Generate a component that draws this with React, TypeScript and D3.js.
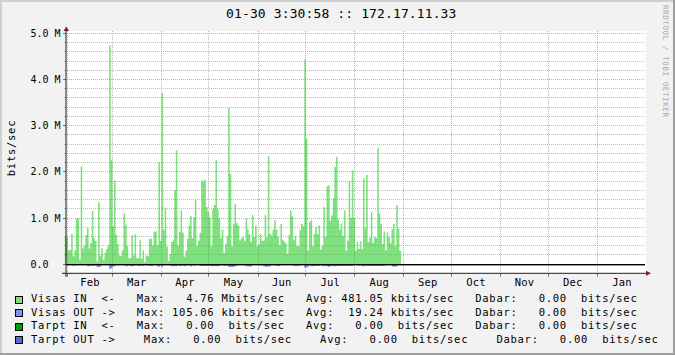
import React from 'react';
import * as d3 from 'd3';

const titleText = '01-30 3:30:58 :: 172.17.11.33';
const unitLabel = 'bits/sec';
const watermark = 'RRDTOOL / TOBI OETIKER';
const startDate = new Date(Date.UTC(2010, 0, 30, 3, 30, 58));
const endDate = new Date(Date.UTC(2011, 0, 30, 3, 30, 58));

// daily averages, Mbit/s
const visasIn = [
  0.60, 0.58, 0.30, 0.30, 0.66, 0.17, 0.30, 0.99, 0.99, 0.10,
  2.12, 0.34, 0.41, 0.63, 0.78, 0.34, 0.46, 1.15, 0.57, 0.50,
  0.06, 1.34, 0.19, 0.34, 0.09, 0.25, 0.33, 0.41, 4.74, 2.25,
  0.82, 1.81, 0.63, 0.43, 0.19, 0.17, 0.30, 1.10, 0.86, 0.39,
  0.13, 0.13, 0.62, 0.19, 0.65, 0.13, 0.13, 0.52, 0.12, 0.30,
  0.04, 0.19, 0.17, 0.55, 0.55, 0.41, 0.71, 0.71, 0.41, 2.21,
  0.51, 3.71, 0.74, 1.23, 0.38, 0.07, 0.22, 0.48, 0.52, 1.60,
  2.47, 0.41, 0.70, 1.17, 0.68, 0.16, 0.29, 0.55, 0.84, 1.04,
  0.56, 1.02, 1.39, 0.40, 0.51, 0.68, 1.82, 1.78, 1.83, 1.24,
  1.13, 1.01, 0.39, 1.20, 1.28, 2.25, 1.20, 0.99, 0.56, 0.75,
  0.25, 0.43, 0.61, 3.38, 1.96, 0.39, 0.87, 1.30, 0.89, 0.84,
  0.52, 0.56, 0.59, 0.51, 0.99, 0.75, 0.65, 0.48, 1.06, 0.59,
  0.84, 0.39, 0.43, 0.65, 0.51, 0.51, 1.06, 0.58, 2.34, 0.66,
  0.62, 0.74, 0.95, 0.75, 0.59, 0.41, 0.87, 0.53, 0.49, 0.45,
  0.22, 0.63, 1.17, 1.04, 0.52, 0.61, 0.40, 0.39, 0.74, 0.87,
  0.82, 4.43, 2.72, 0.30, 0.91, 0.95, 0.39, 0.66, 0.81, 0.65,
  0.84, 0.32, 0.41, 1.24, 0.59, 1.69, 1.71, 0.94, 1.06, 1.43,
  2.11, 2.32, 0.97, 0.75, 0.88, 0.61, 1.17, 0.29, 0.51, 1.80,
  1.00, 2.03, 1.00, 0.29, 0.48, 0.33, 0.50, 0.33, 1.86, 0.78,
  1.93, 0.48, 0.58, 1.13, 0.46, 0.59, 0.56, 2.51, 1.11, 0.87,
  0.44, 0.71, 0.30, 0.69, 0.59, 0.45, 0.76, 0.87, 0.39, 1.28,
  0.77, 0.29,
];

const visasOut = [
  0.02, 0.02, 0.02, 0.02, 0.02, 0.04, 0.02, 0.02, 0.02, 0.02,
  0.02, 0.02, 0.02, 0.02, 0.045, 0.045, 0.02, 0.04, 0.04, 0.02,
  0.06, 0.06, 0.055, 0.02, 0.02, 0.02, 0.02, 0.02, 0.105, 0.09,
  0.05, 0.045, 0.02, 0.02, 0.02, 0.02, 0.02, 0.02, 0.045, 0.04,
  0.02, 0.04, 0.045, 0.04, 0.02, 0.02, 0.04, 0.04, 0.02, 0.04,
  0.02, 0.02, 0.035, 0.035, 0.035, 0.035, 0.02, 0.02, 0.05, 0.05,
  0.02, 0.06, 0.02, 0.02, 0.02, 0.02, 0.02, 0.045, 0.045, 0.04,
  0.045, 0.02, 0.04, 0.04, 0.02, 0.04, 0.04, 0.02, 0.02, 0.05,
  0.02, 0.04, 0.02, 0.02, 0.02, 0.04, 0.04, 0.035, 0.04, 0.035,
  0.04, 0.035, 0.045, 0.045, 0.04, 0.045, 0.04, 0.04, 0.02, 0.02,
  0.04, 0.04, 0.02, 0.06, 0.06, 0.06, 0.06, 0.04, 0.04, 0.02,
  0.02, 0.02, 0.02, 0.02, 0.045, 0.045, 0.05, 0.05, 0.02, 0.02,
  0.02, 0.02, 0.02, 0.02, 0.02, 0.045, 0.05, 0.06, 0.045, 0.05,
  0.02, 0.02, 0.02, 0.04, 0.04, 0.04, 0.02, 0.02, 0.02, 0.02,
  0.02, 0.02, 0.02, 0.02, 0.04, 0.04, 0.035, 0.04, 0.02, 0.02,
  0.02, 0.075, 0.07, 0.05, 0.02, 0.045, 0.045, 0.04, 0.035, 0.04,
  0.035, 0.02, 0.045, 0.045, 0.04, 0.045, 0.06, 0.045, 0.04, 0.045,
  0.045, 0.04, 0.045, 0.04, 0.035, 0.04, 0.04, 0.035, 0.04, 0.035,
  0.04, 0.035, 0.02, 0.02, 0.02, 0.04, 0.02, 0.045, 0.045, 0.04,
  0.035, 0.04, 0.035, 0.04, 0.035, 0.035, 0.04, 0.035, 0.04, 0.035,
  0.04, 0.035, 0.035, 0.02, 0.02, 0.02, 0.045, 0.06, 0.05, 0.045,
  0.02, 0.02,
];

const yMajorTicks = [0, 1, 2, 3, 4, 5];
const yTickLabels = ['0.0  ', '1.0 M', '2.0 M', '3.0 M', '4.0 M', '5.0 M'];
const yMinorStep = 0.2;
const monthLabels = ['Feb', 'Mar', 'Apr', 'May', 'Jun', 'Jul', 'Aug', 'Sep', 'Oct', 'Nov', 'Dec', 'Jan'];

const legendLabels = ['Visas IN  <-', 'Visas OUT ->', 'Tarpt IN  <-', 'Tarpt OUT ->'];
const legendColors = ['#80E080', '#8090FF', '#00A000', '#5070C8'];
const maxValues = [4.76, 105.06, 0, 0];
const maxUnits = ['M', 'k', ' ', ' '];
const avgValues = [481.05, 19.24, 0, 0];
const avgUnits = ['k', 'k', ' ', ' '];
const curValues = [0, 0, 0, 0];
const curUnits = [' ', ' ', ' ', ' '];
const legendGaps = [3, 3, 3, 4];

const W = 675;
const H = 355;
const MONO = "'DejaVu Sans Mono', monospace";

function fmt(v: number) {
  return v.toFixed(2).padStart(7, ' ');
}

export default function App() {
  const x = d3.scaleTime().domain([startDate, endDate]).range([64.8, 643.6]);
  const y = d3.scaleLinear().domain([0, 5]).range([264.2, 33.3]);

  const canvasL = 66, canvasR = 646, canvasT = 31, canvasB = 273;
  const dayMs = 864e5;
  const dates = d3.range(visasIn.length + 1).map((i) => new Date(startDate.getTime() + i * dayMs));

  const inData = [...visasIn, visasIn[visasIn.length - 1]];
  const outData = [...visasOut, visasOut[visasOut.length - 1]];

  const areaIn = d3.area<number>()
    .x((_, i) => x(dates[i]))
    .y0(y(0))
    .y1((d) => y(d))
    .curve(d3.curveStepAfter);
  const areaOut = d3.area<number>()
    .x((_, i) => x(dates[i]))
    .y0(y(0))
    .y1((d) => y(-d))
    .curve(d3.curveStepAfter);

  const months = d3.utcMonth.range(startDate, endDate);
  const minorTicks = d3.range(yMinorStep, 5, yMinorStep).filter((v) => Math.abs(v - Math.round(v)) > 1e-6);

  const snap = (v: number) => Math.floor(v) + 0.5;

  const legendRows = legendLabels.map((lab, i) => {
    const gap = ' '.repeat(legendGaps[i]);
    return (
      lab + gap +
      'Max:' + fmt(maxValues[i]) + ' ' + maxUnits[i] + 'bits/sec' + gap +
      'Avg:' + fmt(avgValues[i]) + ' ' + avgUnits[i] + 'bits/sec' + gap +
      'Dabar:' + fmt(curValues[i]) + ' ' + curUnits[i] + 'bits/sec'
    );
  });

  const axisColor = '#1f1f1f';
  const arrowColor = '#801F1F';

  return (
    <svg
      width={W}
      height={H}
      viewBox={`0 0 ${W} ${H}`}
      style={{ position: 'absolute', left: 0, top: 0, display: 'block' }}
      fontFamily={MONO}
    >
      <rect x={0} y={0} width={W} height={H} fill="#F2F2F2" />
      <rect x={0} y={0} width={W} height={2} fill="#CFCFCF" />
      <rect x={0} y={0} width={2} height={H} fill="#CFCFCF" />
      <rect x={0} y={H - 2} width={W} height={2} fill="#9E9E9E" />
      <rect x={W - 2} y={0} width={2} height={H} fill="#9E9E9E" />

      <text x={341.3} y={18.3} textAnchor="middle" fontSize={13} letterSpacing={0.12} fill="#000" style={{ whiteSpace: 'pre' }}>
        {titleText}
      </text>

      <text
        transform={`translate(663,5) rotate(90)`}
        fontSize={7.5}
        letterSpacing={0.6}
        fill="#A8A8A8"
        style={{ whiteSpace: 'pre' }}
      >
        {watermark}
      </text>

      <text
        transform={`translate(15,148) rotate(-90)`}
        textAnchor="middle"
        fontSize={10.5}
        letterSpacing={0.73}
        fill="#000"
      >
        {unitLabel}
      </text>

      <rect x={canvasL} y={canvasT} width={canvasR - canvasL} height={canvasB - canvasT} fill="#FFFFFF" />

      <path d={areaIn(inData) || ''} fill="#80E080" />
      <path d={areaOut(outData) || ''} fill="#7B8CF8" />

      {/* minor grid */}
      {minorTicks.map((v) => (
        <line key={'mg' + v} x1={canvasL + 1} x2={canvasR - 1} y1={snap(y(v))} y2={snap(y(v))}
          stroke="rgba(143,143,143,0.6)" strokeWidth={1} strokeDasharray="1,1" />
      ))}
      {/* major horizontal grid */}
      {yMajorTicks.map((v) => (
        <line key={'Mg' + v} x1={canvasL + 1} x2={canvasR - 1} y1={snap(y(v))} y2={snap(y(v))}
          stroke="rgba(222,79,79,0.55)" strokeWidth={1} strokeDasharray="1,1" />
      ))}
      {/* vertical month grid */}
      {months.map((m) => (
        <line key={'vg' + m.getTime()} x1={snap(x(m))} x2={snap(x(m))} y1={canvasT} y2={canvasB}
          stroke="rgba(222,79,79,0.55)" strokeWidth={1} strokeDasharray="1,1" />
      ))}

      {/* zero rule */}
      <rect x={canvasL} y={264} width={canvasR - canvasL - 1} height={1.4} fill="#000" />

      {/* y axis */}
      <line x1={66} x2={66} y1={277} y2={29} stroke={axisColor} strokeWidth={1} />
      {yMajorTicks.map((v) => (
        <line key={'yt' + v} x1={63} x2={66} y1={snap(y(v))} y2={snap(y(v))} stroke={axisColor} strokeWidth={1} strokeOpacity={0.6} />
      ))}
      {minorTicks.map((v) => (
        <line key={'ymt' + v} x1={64.5} x2={66} y1={snap(y(v))} y2={snap(y(v))} stroke={axisColor} strokeWidth={1} strokeOpacity={0.4} />
      ))}
      <path d="M63.5,31 L69,31 L66.25,26.5 Z" fill={arrowColor} />

      {/* x axis */}
      <line x1={62} x2={647} y1={273.3} y2={273.3} stroke={axisColor} strokeWidth={1} />
      {months.map((m) => (
        <line key={'xt' + m.getTime()} x1={snap(x(m))} x2={snap(x(m))} y1={273} y2={276.5} stroke={axisColor} strokeWidth={1} strokeOpacity={0.6} />
      ))}
      <path d="M646,270.8 L646,275.8 L651,273.3 Z" fill={arrowColor} />

      {/* y labels */}
      {yMajorTicks.map((v, i) => (
        <text key={'yl' + v} x={30.5} y={y(v) + 3.6} fontSize={10} fill="#000" style={{ whiteSpace: 'pre' }}>
          {yTickLabels[i]}
        </text>
      ))}

      {/* x labels */}
      {months.map((m, i) => {
        const next = d3.utcMonth.offset(m, 1);
        const cx = (x(m) + x(next)) / 2;
        return (
          <text key={'xl' + i} x={cx} y={285.6} textAnchor="middle" fontSize={10.5} letterSpacing={0.2} fill="#000">
            {monthLabels[i]}
          </text>
        );
      })}

      {/* legend */}
      {legendRows.map((row, i) => {
        const top = 296 + i * 13.5;
        return (
          <g key={'lg' + i}>
            <rect x={15.5} y={Math.floor(top) + 0.5} width={7} height={7} fill={legendColors[i]} stroke="#000" strokeWidth={1} />
            <text x={31} y={top + 6.4} fontSize={10.5} letterSpacing={0.73} fill="#000" style={{ whiteSpace: 'pre' }}>
              {row}
            </text>
          </g>
        );
      })}
    </svg>
  );
}
